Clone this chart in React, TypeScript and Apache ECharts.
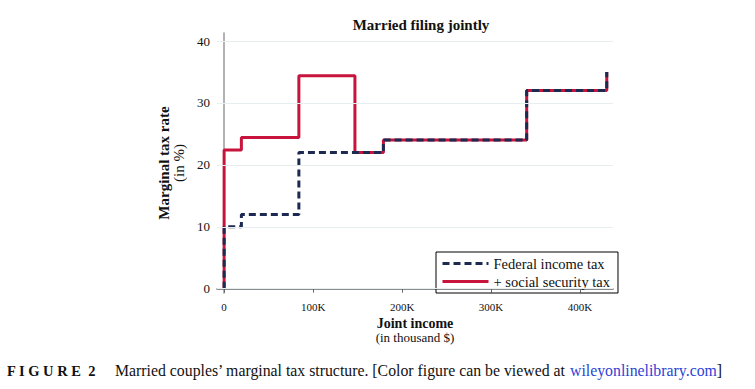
import React, { useEffect, useRef } from "react";
import * as echarts from "echarts";

// Income in thousand $, rate in %
const federalIncome = [0, 0, 19.4, 84, 179, 340, 430];
const federalRate = [0, 10, 12, 22, 24, 32, 35];
const totalIncome = [0, 0, 19.4, 84, 147, 179, 340, 430];
const totalRate = [0, 22.4, 24.4, 34.4, 22, 24, 32, 35];
const xTicks = [0, 100, 200, 300, 400];
const yTicks = [0, 10, 20, 30, 40];
const seriesNames = ["Federal income tax", "+ social security tax"];

const SERIF = "'Liberation Serif', 'Times New Roman', serif";

export default function App() {
  const ref = useRef<HTMLDivElement>(null);
  useEffect(() => {
    if (!ref.current) return;
    const chart = echarts.init(ref.current, undefined, { renderer: "svg" });
    const navy = "#1c2a52";
    const red = "#c8143c";
    chart.setOption({
      animation: false,
      backgroundColor: "#fff",
      title: {
        text: "Married filing jointly",
        left: 416,
        top: 12,
        textAlign: "center",
        textStyle: { fontFamily: SERIF, fontWeight: "bold", fontSize: 15, color: "#111" },
      },
      grid: { left: 217, right: 142, top: 33, bottom: 96 },
      legend: {
        orient: "vertical",
        left: 436,
        top: 252,
        data: [seriesNames[0], seriesNames[1]],
        borderColor: "#000",
        borderWidth: 1,
        borderRadius: 0,
        padding: [4, 8, 4, 5],
        itemGap: 3,
        itemWidth: 46,
        itemHeight: 14,
        itemStyle: { opacity: 0 },
        lineStyle: { width: 3, opacity: 1 },
        textStyle: { fontFamily: SERIF, fontSize: 14.5, color: "#111" },
      },
      xAxis: {
        type: "value",
        min: -8,
        max: 437,
        name: "{b|Joint income}\n{n|(in thousand $)}",
        nameLocation: "middle",
        nameGap: 18,
        nameTextStyle: {
          rich: {
            b: { fontFamily: SERIF, fontWeight: "bold", fontSize: 14, color: "#111", lineHeight: 14 },
            n: { fontFamily: SERIF, fontSize: 13, color: "#111", lineHeight: 14 },
          },
        },
        axisLine: { show: true, lineStyle: { color: "#666", width: 1.5 } },
        axisTick: { show: true, length: 4, customValues: xTicks, lineStyle: { color: "#666" } },
        axisLabel: {
          customValues: xTicks,
          fontFamily: SERIF,
          fontSize: 11,
          color: "#111",
          margin: 8,
          formatter: (v: number) => (v === 0 ? "0" : `${v}K`),
        },
        splitLine: { show: false },
      },
      yAxis: {
        type: "value",
        min: -0.7,
        max: 41.3,
        name: "{b|Marginal tax rate}\n{n|(in %)}",
        nameLocation: "middle",
        nameRotate: 90,
        nameGap: 26,
        nameTextStyle: {
          rich: {
            b: { fontFamily: SERIF, fontWeight: "bold", fontSize: 15, color: "#111", lineHeight: 15 },
            n: { fontFamily: SERIF, fontSize: 15, color: "#111", lineHeight: 15 },
          },
        },
        axisLine: { show: true, lineStyle: { color: "#999", width: 1.5 } },
        axisTick: { show: true, length: 4, customValues: yTicks, lineStyle: { color: "#666" } },
        axisLabel: {
          customValues: yTicks,
          fontFamily: SERIF,
          fontSize: 13,
          color: "#111",
          margin: 7,
        },
        splitLine: { show: false },
      },
      series: [
        {
          name: seriesNames[1],
          type: "line",
          step: "end",
          symbol: "none",
          data: totalIncome.map((x, i) => [x, totalRate[i]]),
          lineStyle: { color: red, width: 3 },
          itemStyle: { color: red },
          z: 2,
        },
        {
          name: seriesNames[0],
          type: "line",
          step: "end",
          symbol: "none",
          data: federalIncome.map((x, i) => [x, federalRate[i]]),
          lineStyle: { color: navy, width: 3, type: [7, 4] },
          itemStyle: { color: navy },
          z: 3,
        },
        {
          type: "line",
          silent: true,
          data: [],
          markLine: {
            silent: true,
            symbol: "none",
            label: { show: false },
            lineStyle: { color: "#e6eef0", width: 1, type: "solid" },
            data: yTicks.map((v) => ({ yAxis: v })),
          },
          z: 1,
        },
      ],
      graphic: [
        {
          type: "text",
          left: 7,
          top: 363,
          style: {
            text: "F I G U R E  2",
            fontFamily: SERIF,
            fontWeight: "bold",
            fontSize: 14.5,
            fill: "#111",
          },
        },
        {
          type: "text",
          left: 115,
          top: 362,
          style: {
            text: "{t|Married couples\u2019 marginal tax structure. [Color figure can be viewed at }{l|wileyonlinelibrary.com}{t|]}",
            rich: {
              t: { fontFamily: SERIF, fontSize: 15.8, fill: "#111" },
              l: { fontFamily: SERIF, fontSize: 15.8, fill: "#2b3fd6" },
            },
          },
        },
      ],
    });
    return () => chart.dispose();
  }, []);
  return (
    <div
      ref={ref}
      style={{ position: "fixed", left: 0, top: 0, width: 755, height: 389, background: "#fff" }}
    />
  );
}
